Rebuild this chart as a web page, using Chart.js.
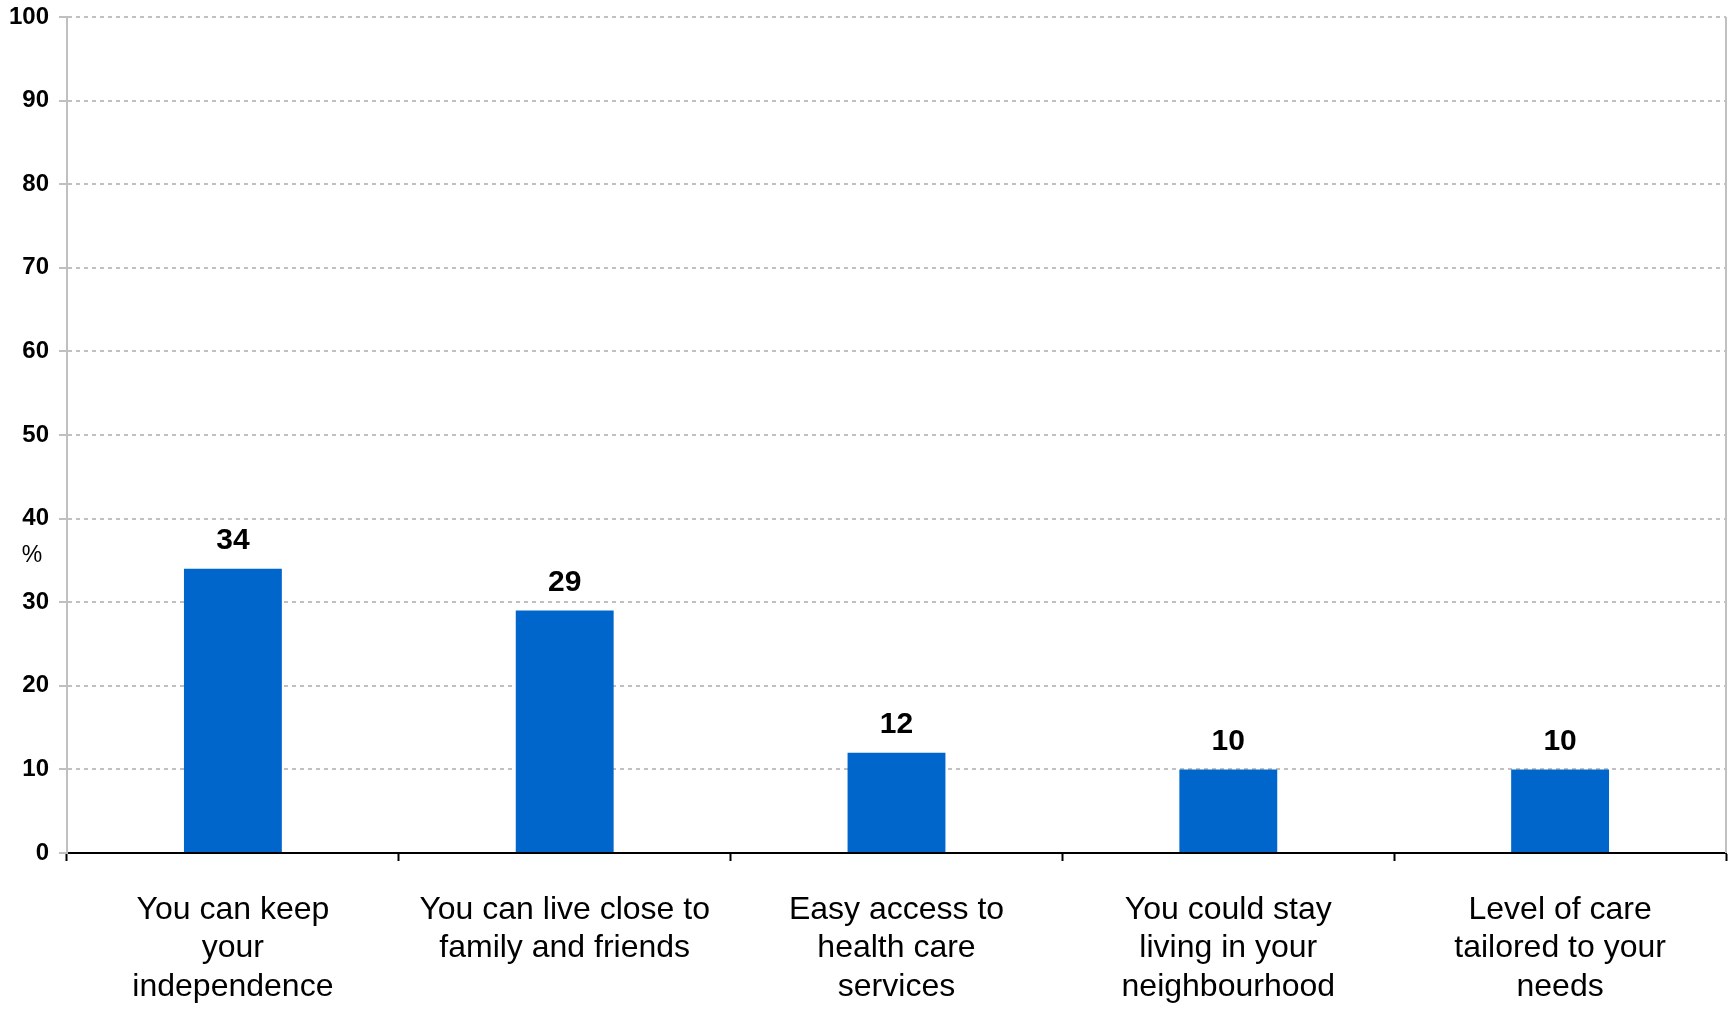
<!DOCTYPE html>
<html>
<head>
<meta charset="utf-8">
<script src="https://cdn.jsdelivr.net/npm/chart.js@4"></script>
<style>
  html, body { margin: 0; padding: 0; background: #fff; }
  #wrap { width: 1729px; height: 1010px; position: relative; }
</style>
</head>
<body>
<div id="wrap"><canvas id="myChart"></canvas></div>
<script>
// values
const categories = [
    ['You can keep', 'your', 'independence'],
    ['You can live close to', 'family and friends'],
    ['Easy access to', 'health care', 'services'],
    ['You could stay', 'living in your', 'neighbourhood'],
    ['Level of care', 'tailored to your', 'needs']
];
const values = [34, 29, 12, 10, 10];
const yMin = 0;
const yMax = 100;
const yStep = 10;
const unitLabel = '%';

const FONT = "'Liberation Sans', Arial, sans-serif";

// writes the value above each bar
const barLabels = {
    id: 'barLabels',
    afterDatasetsDraw(chart) {
        const ctx = chart.ctx;
        const meta = chart.getDatasetMeta(0);
        ctx.save();
        ctx.font = 'bold 30px ' + FONT;
        ctx.fillStyle = '#000';
        ctx.textAlign = 'center';
        ctx.textBaseline = 'middle';
        meta.data.forEach(function(bar, i) {
            ctx.fillText(String(values[i]), bar.x, bar.y - 28);
        });
        ctx.restore();
    }
};

// right border of the plot and the "%" unit next to the y axis
const frameExtras = {
    id: 'frameExtras',
    afterDraw(chart) {
        const ctx = chart.ctx;
        const area = chart.chartArea;
        const y = chart.scales.y;
        ctx.save();
        ctx.strokeStyle = '#c0c0c0';
        ctx.lineWidth = 2;
        ctx.beginPath();
        ctx.moveTo(area.right, area.top);
        ctx.lineTo(area.right, area.bottom);
        ctx.stroke();

        ctx.font = '23px ' + FONT;
        ctx.fillStyle = '#000';
        ctx.textAlign = 'center';
        ctx.textBaseline = 'middle';
        ctx.fillText(unitLabel, 32, y.getPixelForValue(35.6));
        ctx.restore();
    }
};

const data = {
    labels: categories,
    datasets: [{
        data: values,
        backgroundColor: '#0066cc',
        borderWidth: 0,
        categoryPercentage: 1,
        barPercentage: 0.295
    }]
};

const config = {
    type: 'bar',
    data,
    options: {
        responsive: true,
        maintainAspectRatio: false,
        animation: false,
        layout: {
            padding: { top: 17, right: 3, left: 0, bottom: 0 }
        },
        plugins: {
            legend: { display: false },
            tooltip: { enabled: false }
        },
        scales: {
            x: {
                grid: {
                    display: true,
                    drawOnChartArea: false,
                    drawTicks: true,
                    tickLength: 8,
                    tickColor: '#000',
                    tickWidth: 2,
                    offset: true
                },
                border: { display: true, color: '#000', width: 2 },
                ticks: {
                    color: '#000',
                    padding: 30,
                    maxRotation: 0,
                    autoSkip: false,
                    font: { family: FONT, size: 32, lineHeight: 1.2 }
                },
                afterFit(scale) {
                    scale.height = 157;
                    scale.paddingLeft = 0;
                    scale.paddingRight = 0;
                }
            },
            y: {
                min: yMin,
                max: yMax,
                grid: {
                    color: '#c0c0c0',
                    lineWidth: 2,
                    tickLength: 8,
                    tickColor: '#c0c0c0',
                    tickWidth: 2,
                    tickBorderDash: []
                },
                border: { display: true, color: '#c0c0c0', width: 2, dash: [4, 4] },
                ticks: {
                    stepSize: yStep,
                    color: '#000',
                    padding: 10,
                    font: { family: FONT, size: 24, weight: 'bold' }
                },
                afterFit(scale) {
                    scale.width = 67;
                    scale.paddingTop = 0;
                    scale.paddingBottom = 0;
                }
            }
        }
    },
    plugins: [barLabels, frameExtras]
};

const myChart = new Chart(
    document.getElementById('myChart'),
    config
);
</script>
</body>
</html>
